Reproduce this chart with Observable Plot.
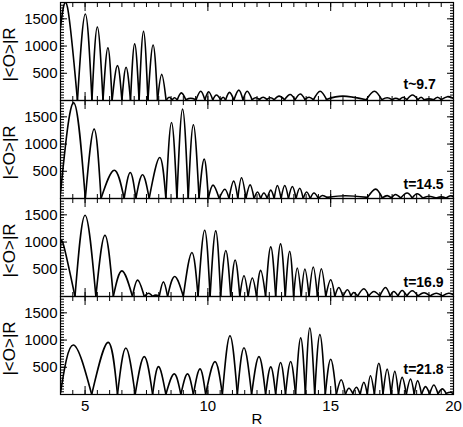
<!DOCTYPE html>
<html><head><meta charset="utf-8">
<script src="https://cdn.jsdelivr.net/npm/d3@7"></script>
<script src="https://cdn.jsdelivr.net/npm/@observablehq/plot@0.6"></script>
<style>body{margin:0;background:#fff}</style>
</head><body><div id="chart"></div>
<script>
// Panel labels (time)
const panels = ["t~9.7", "t=14.5", "t=16.9", "t=21.8"];

// Extrema of |<O>|R along R for each panel: min, max, min, max, ..., min
const p1R = [4.0, 4.28, 4.69, 5.01, 5.28, 5.50, 5.73, 5.93, 6.10, 6.32, 6.50, 6.67, 6.85, 7.02, 7.20, 7.38, 7.56, 7.77, 7.95, 8.12, 8.30,
  8.42, 8.55, 8.65, 8.75, 8.92, 9.10, 9.30, 9.52, 9.71, 9.88, 10.03, 10.20, 10.35, 10.52, 10.62, 10.72, 10.88, 11.06, 11.26, 11.43, 11.60, 11.80, 11.95, 12.10, 12.25, 12.40, 12.55, 12.70, 12.90, 13.12, 13.35, 13.55, 13.76, 13.95, 14.12, 14.30, 14.57, 14.83, 15.50, 16.45, 16.78, 17.08, 17.30, 17.50, 17.65, 17.80, 17.95, 18.10, 18.33, 18.55, 18.68, 18.80, 19.00, 19.20, 19.35, 19.50, 19.75, 20.0];
const p1Y = [1350, 1720, 0, 1590, 0, 1350, 0, 970, 0, 640, 0, 610, 0, 1040, 0, 1270, 0, 1020, 0, 480, 0,
  60, 15, 50, 10, 140, 15, 40, 15, 170, 10, 160, 10, 100, 10, 60, 10, 150, 10, 190, 10, 170, 15, 50, 20, 60, 20, 50, 15, 80, 15, 110, 15, 120, 20, 60, 15, 170, 20, 80, 15, 170, 15, 50, 15, 40, 15, 60, 15, 100, 15, 60, 15, 30, 15, 60, 15, 70, 40];

const p2R = [4.0, 4.54, 5.01, 5.37, 5.65, 6.19, 6.59, 6.84, 7.07, 7.34, 7.61, 8.04, 8.29, 8.52, 8.74, 8.97, 9.20, 9.41, 9.64, 9.85, 10.02, 10.21, 10.46, 10.69, 10.86, 11.05, 11.22, 11.37, 11.55, 11.72, 11.88, 12.02, 12.15, 12.28, 12.42, 12.56, 12.70, 12.83, 12.98, 13.13, 13.28, 13.44, 13.59, 13.74, 13.88, 14.02, 14.17, 14.32, 14.50, 14.66, 14.85, 15.60, 16.50, 16.83, 17.10, 17.30, 17.47, 17.64, 17.85, 18.11, 18.32, 18.52, 18.75, 19.00, 19.30, 19.50, 19.70, 19.87, 20.0];
const p2Y = [100, 1760, 0, 1275, 0, 520, 0, 478, 0, 435, 0, 753, 0, 1396, 0, 1642, 0, 1354, 0, 723, 0, 246, 0, 170, 0, 320, 0, 380, 0, 250, 0, 120, 0, 100, 0, 153, 0, 240, 0, 240, 0, 220, 0, 187, 0, 120, 0, 100, 0, 55, 20, 50, 20, 173, 10, 53, 10, 73, 10, 100, 10, 87, 10, 40, 10, 30, 10, 50, 30];

const p3R = [4.0, 4.12, 4.59, 5.0, 5.44, 5.81, 6.15, 6.5, 6.93, 7.14, 7.41, 7.59, 7.75, 7.88, 8.02, 8.19, 8.36, 8.65, 9.0, 9.35, 9.6, 9.87, 10.09, 10.32, 10.52, 10.73, 10.93, 11.11, 11.3, 11.47, 11.64, 11.81, 11.98, 12.15, 12.35, 12.56, 12.76, 12.96, 13.15, 13.33, 13.49, 13.64, 13.8, 13.95, 14.12, 14.29, 14.46, 14.62, 14.8, 15.0, 15.17, 15.33, 15.5, 15.68, 15.82, 15.94, 16.1, 16.35, 16.55, 16.76, 17.0, 17.23, 17.42, 17.57, 17.74, 17.91, 18.1, 18.32, 18.55, 18.8, 19.05, 19.3, 19.55, 19.8, 20.0];
const p3Y = [910, 950, 0, 1493, 0, 1126, 0, 471, 0, 300, 0, 61, 0, 25, 0, 269, 0, 367, 0, 808, 0, 1218, 0, 1206, 0, 845, 0, 670, 0, 382, 0, 339, 0, 480, 0, 912, 0, 967, 0, 832, 0, 524, 0, 505, 0, 542, 0, 511, 0, 308, 0, 166, 0, 123, 10, 74, 10, 142, 10, 92, 10, 166, 10, 92, 10, 111, 10, 105, 10, 70, 10, 60, 10, 60, 30];

const p4R = [4.0, 4.52, 5.27, 5.94, 6.32, 6.66, 7.04, 7.41, 7.75, 7.99, 8.29, 8.63, 8.90, 9.17, 9.41, 9.68, 9.91, 10.29, 10.59, 10.90, 11.20, 11.47, 11.78, 12.08, 12.35, 12.56, 12.76, 12.96, 13.16, 13.37, 13.57, 13.78, 13.97, 14.15, 14.35, 14.56, 14.78, 15.0, 15.23, 15.43, 15.60, 15.74, 15.90, 16.05, 16.20, 16.35, 16.49, 16.62, 16.78, 16.96, 17.13, 17.30, 17.46, 17.61, 17.76, 17.91, 18.08, 18.25, 18.40, 18.54, 18.70, 18.86, 19.03, 19.20, 19.37, 19.54, 19.70, 19.87, 20.0];
const p4Y = [30, 909, 0, 958, 0, 854, 0, 695, 0, 512, 0, 378, 0, 378, 0, 470, 0, 604, 0, 1080, 0, 859, 0, 696, 0, 508, 0, 587, 0, 605, 0, 1040, 0, 1222, 0, 1101, 0, 647, 0, 272, 0, 115, 20, 133, 0, 224, 0, 345, 0, 575, 0, 466, 0, 424, 0, 315, 0, 284, 0, 254, 0, 145, 10, 175, 10, 103, 20, 42, 10];

// Tick values
const xMajor = [5, 10, 15];
const xLabels = [5, 10, 15, 20];
const yLabels = [500, 1000, 1500];

const series = [[p1R, p1Y], [p2R, p2Y], [p3R, p3Y], [p4R, p4Y]];

// Each lobe (min, max, min) becomes its own line so the lobes meet in cusps
const rows = [];
series.forEach(([Rs, Ys], p) => {
  if (Rs.length !== Ys.length) throw new Error("length mismatch in panel " + p);
  for (let k = 0; k + 2 < Rs.length; k += 2) {
    for (let j = 0; j < 3; j++) rows.push({panel: panels[p], lobe: p + "-" + k, R: Rs[k + j], y: Ys[k + j]});
  }
});

const xMinor = d3.range(8, 41).map(d => d / 2);
const yMinor = d3.range(0, 1801, 50);
const labelRise = [12, 10, 10, 21];
const blank = () => "";

const chart = Plot.plot({
  width: 463, height: 427,
  marginTop: 2, marginBottom: 33, marginLeft: 60, marginRight: 10,
  style: {fontFamily: "'Liberation Sans', Arial, sans-serif", background: "white", color: "black"},
  x: {domain: [4, 20]},
  y: {domain: [0, 1800]},
  fy: {domain: panels, padding: 0, axis: null, label: null},
  marks: [
    Plot.line(rows, {x: "R", y: "y", z: "lobe", fy: "panel", curve: "natural", stroke: "black", strokeWidth: 1.6, clip: true}),
    Plot.axisX({anchor: "bottom", facetAnchor: null, ticks: xMinor, tickSize: -4, tickFormat: blank, label: null}),
    Plot.axisX({anchor: "top", facetAnchor: null, ticks: xMinor, tickSize: -4, tickFormat: blank, label: null}),
    Plot.axisX({anchor: "bottom", facetAnchor: null, ticks: xMajor, tickSize: -8, tickFormat: blank, label: null}),
    Plot.axisX({anchor: "top", facetAnchor: null, ticks: xMajor, tickSize: -8, tickFormat: blank, label: null}),
    Plot.axisY({anchor: "left", facetAnchor: null, ticks: yMinor, tickSize: -4, tickFormat: blank, label: null}),
    Plot.axisY({anchor: "right", facetAnchor: null, ticks: yMinor, tickSize: -4, tickFormat: blank, label: null}),
    Plot.axisY({anchor: "left", facetAnchor: null, ticks: yLabels, tickSize: -7, tickFormat: blank, label: null}),
    Plot.axisY({anchor: "right", facetAnchor: null, ticks: yLabels, tickSize: -7, tickFormat: blank, label: null}),
    Plot.axisY({anchor: "left", facetAnchor: null, ticks: yLabels, tickSize: 0, tickPadding: 3, fontSize: 15, tickFormat: d => String(d), label: null}),
    Plot.axisX({anchor: "bottom", ticks: xLabels, tickSize: 0, tickPadding: 6, fontSize: 15, tickFormat: d => String(d), label: "R", labelAnchor: "center", labelArrow: "none", labelOffset: 29}),
    Plot.text(panels, {fy: d => d, text: () => "|<O>|R", frameAnchor: "left", textAnchor: "middle", rotate: -90, dx: -51, dy: 3, fontSize: 17}),
    ...panels.map((p, i) => Plot.text([p], {fy: d => d, text: d => d, frameAnchor: "bottom-right", textAnchor: "start", dx: -50, dy: -labelRise[i], fontSize: 14, fontWeight: "bold"})),
    Plot.frame({stroke: "black", strokeWidth: 1.2})
  ]
});
document.getElementById("chart").appendChild(chart);
</script></body></html>
